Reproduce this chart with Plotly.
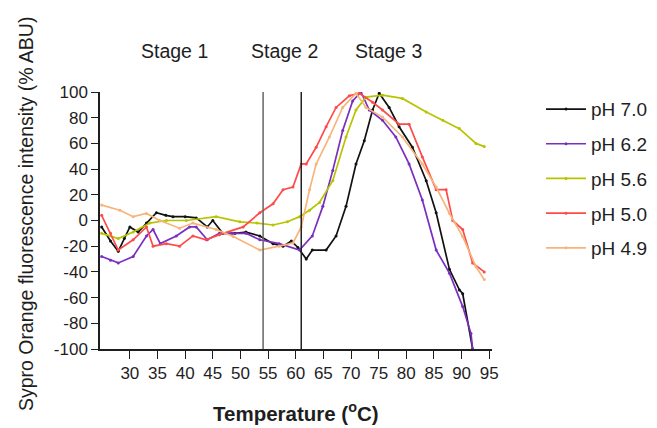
import plotly.graph_objects as go

# ---- data ----
t_ph70 = [24.9, 26.5, 27.9, 29.0, 30.0, 31.5, 33.0, 34.8, 36.5, 37.8, 40.0, 42.0, 44.0, 45.0, 46.8, 49.0, 51.0, 53.5, 55.9, 57.7, 59.2, 60.4, 61.9, 63.0, 65.5, 67.3, 69.1, 70.9, 72.4, 73.9, 75.1, 76.9, 78.7, 81.1, 83.6, 85.4, 87.8, 89.6, 90.2, 92.0]
v_ph70 = [-5, -16, -24, -14, -5, -9, -2, 6, 4, 3, 3, 2, -5, 0, -10, -10, -9, -12, -18, -20, -16, -21, -30, -23, -23, -12, 11, 44, 62, 86, 99, 88, 73, 57, 31, 6, -38, -54, -57, -100]

t_ph62 = [24.9, 26.5, 27.9, 30.6, 33.0, 34.2, 35.5, 38.4, 40.8, 42.0, 44.0, 46.2, 48.5, 51.0, 53.5, 57.0, 60.7, 63.0, 64.9, 66.7, 68.5, 70.3, 71.8, 73.3, 75.7, 78.1, 80.5, 82.9, 85.4, 87.8, 90.2, 91.7, 92.0]
v_ph62 = [-28, -31, -33, -28, -12, -7, -18, -12, -5, -5, -15, -10, -10, -10, -15, -18, -23, -12, 11, 39, 70, 93, 100, 86, 78, 65, 44, 16, -23, -41, -67, -88, -100]

t_ph56 = [24.9, 27.9, 30.6, 33.6, 36.6, 40.2, 45.6, 49.9, 53.0, 55.9, 58.5, 60.7, 62.5, 64.3, 66.7, 69.1, 70.9, 72.7, 75.7, 79.3, 83.6, 86.6, 89.6, 92.6, 94.1]
v_ph56 = [-10, -14, -9, -2, 0, 0, 3, -1, -2, -3.5, -1, 3, 8, 14, 31, 65, 86, 96, 97.5, 95, 84.5, 78, 71.5, 60, 57.5]

t_ph50 = [24.9, 26.5, 27.9, 30.6, 33.0, 34.2, 36.6, 39.0, 41.4, 43.8, 46.2, 50.5, 53.5, 55.9, 57.7, 59.5, 61.0, 61.9, 63.7, 65.5, 67.3, 69.7, 71.5, 73.9, 75.7, 78.7, 80.5, 82.9, 85.4, 87.2, 88.4, 90.2, 92.0, 94.1]
v_ph50 = [4, -10, -23, -15, -5, -20, -18, -20, -12, -15, -11, -5, 6, 13, 24, 26, 44, 44, 57, 73, 88, 97, 99, 92, 86, 75, 75, 49.5, 24, 24, 0, -7, -33, -40]

t_ph49 = [24.9, 28.2, 30.6, 33.0, 35.4, 39.0, 41.4, 45.6, 48.7, 53.5, 57.0, 59.5, 61.0, 62.5, 63.7, 66.1, 68.5, 70.9, 72.7, 75.7, 79.3, 82.9, 85.4, 87.8, 90.2, 92.6, 94.1]
v_ph49 = [12, 8, 3, 5.5, 0, -6, -2, -7, -12.5, -23, -20, -17.5, -5, 24, 44, 65, 88, 99, 88, 80.5, 65, 44, 26, 5.6, -12.5, -36, -46]

series_names = ["pH 7.0", "pH 6.2", "pH 5.6", "pH 5.0", "pH 4.9"]
series_t = [t_ph70, t_ph62, t_ph56, t_ph50, t_ph49]
series_v = [v_ph70, v_ph62, v_ph56, v_ph50, v_ph49]
series_colors = ["#111111", "#7a2ec0", "#b8c400", "#ff4a4a", "#f8b478"]

x_ticks = [30, 35, 40, 45, 50, 55, 60, 65, 70, 75, 80, 85, 90, 95]
y_ticks = [100, 80, 60, 40, 20, 0, -20, -40, -60, -80, -100]
y_tick_text = ["100", "80", "60", "40", "20", "0", "-20", "-40", "-60", "-80", "-100"]
stage_lines = [54.1, 61.0]
stage_line_colors = ["#666666", "#222222"]
stage_labels = ["Stage 1", "Stage 2", "Stage 3"]
stage_label_x = [38.0, 58.0, 76.8]

FONT = "Liberation Sans, Arial, sans-serif"
TXT = "#1e1e1e"

fig = go.Figure()
for i, (name, tt, vv, c) in enumerate(zip(series_names, series_t, series_v, series_colors)):
    fig.add_trace(go.Scatter(
        x=tt, y=vv, name=name, mode="lines+markers",
        line=dict(color=c, width=1.7),
        marker=dict(color=c, size=3),
        legendgroup=f"g{i}",
    ))

for xv, c in zip(stage_lines, stage_line_colors):
    fig.add_shape(type="line", xref="x", yref="y", x0=xv, x1=xv, y0=-100, y1=100,
                  line=dict(color=c, width=1.5))

for lab, xv in zip(stage_labels, stage_label_x):
    fig.add_annotation(x=xv, xref="x", y=1.16, yref="paper", text=lab, showarrow=False,
                       font=dict(family=FONT, size=19.5, color=TXT), yanchor="middle")

fig.add_annotation(x=0.5, xref="paper", y=-0.247, yref="paper",
                   text="<b>Temperature (<sup>o</sup>C)</b>", showarrow=False,
                   font=dict(family=FONT, size=20.5, color=TXT), yanchor="middle")
fig.add_annotation(x=-0.19, xref="paper", y=0.527, yref="paper",
                   text="Sypro Orange fluorescence intensity (% ABU)", textangle=-90,
                   showarrow=False, font=dict(family=FONT, size=19.5, color=TXT),
                   xanchor="center", yanchor="middle")

fig.update_layout(
    width=657, height=428,
    margin=dict(l=100, r=165, t=92, b=79, autoexpand=False),
    paper_bgcolor="white", plot_bgcolor="white",
    font=dict(family=FONT, color=TXT),
    showlegend=True,
    legend=dict(x=1.125, y=1.007, xanchor="left", yanchor="top",
                font=dict(family=FONT, size=19, color=TXT), itemwidth=40,
                tracegroupgap=7, bgcolor="rgba(0,0,0,0)"),
    xaxis=dict(range=[24.6, 95.5], tickvals=x_ticks, ticks="outside", ticklen=8,
               tickcolor=TXT, showline=True, linecolor=TXT, linewidth=1.5,
               showgrid=False, zeroline=False,
               tickfont=dict(family=FONT, size=17, color=TXT)),
    yaxis=dict(range=[-100, 100], tickvals=y_ticks, ticktext=y_tick_text,
               ticks="outside", ticklen=7,
               tickcolor=TXT, showline=True, linecolor=TXT, linewidth=1.5,
               showgrid=False, zeroline=False,
               tickfont=dict(family=FONT, size=17, color=TXT)),
)

fig.write_html("out.html")
